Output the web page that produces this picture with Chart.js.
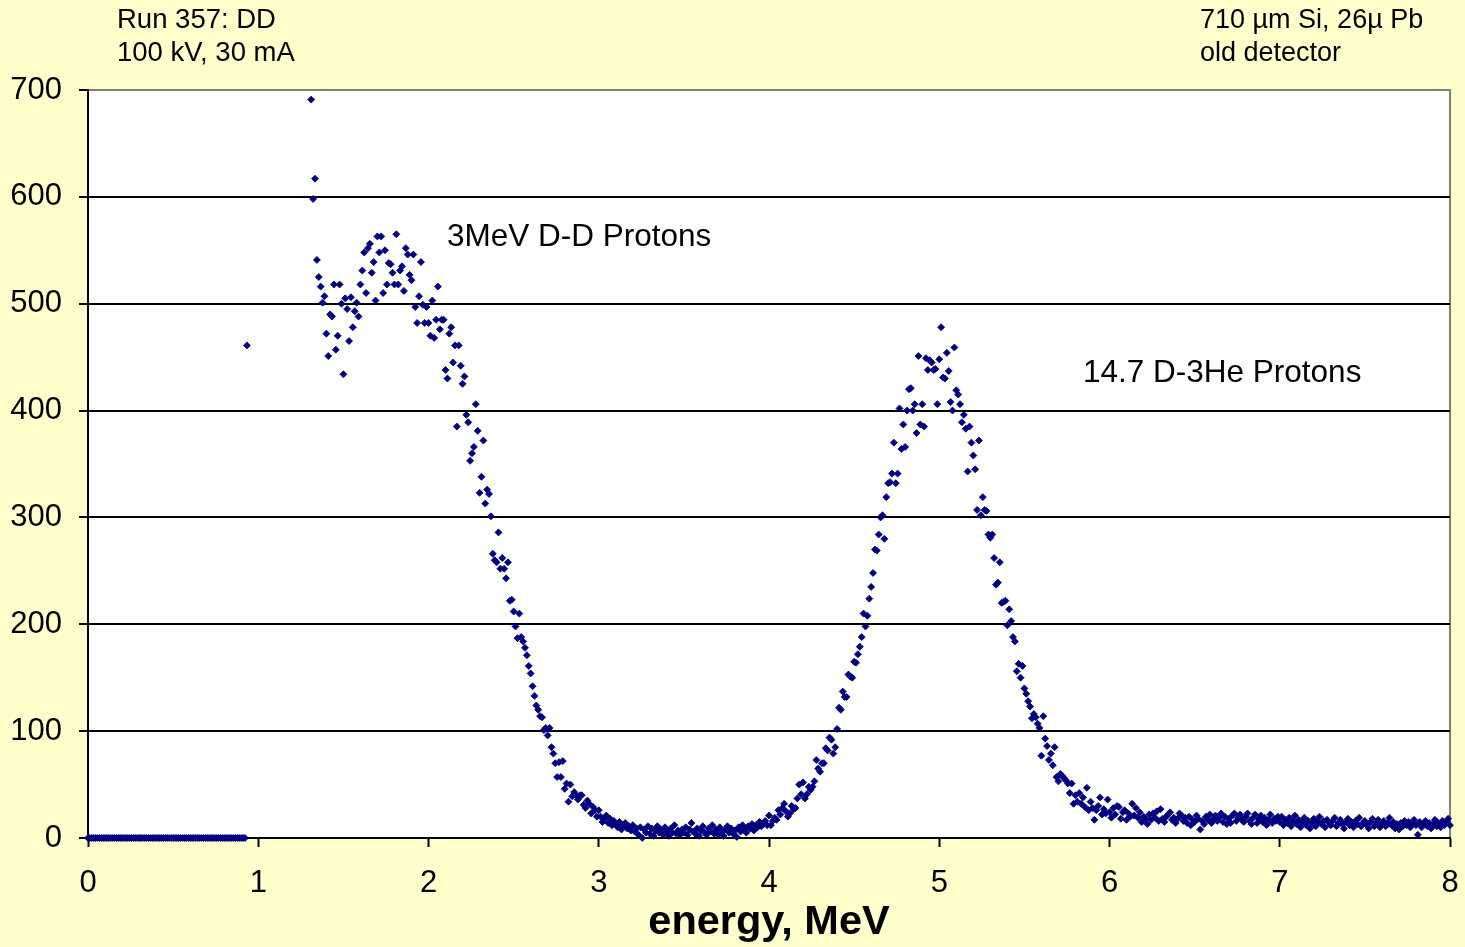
<!DOCTYPE html>
<html>
<head>
<meta charset="utf-8">
<title>Run 357: DD</title>
<script src="https://cdn.jsdelivr.net/npm/chart.js@4.4.0/dist/chart.umd.min.js"></script>
<style>
  html, body { margin: 0; padding: 0; background: #FFFFCC; }
  #wrap { width: 1465px; height: 947px; }
</style>
</head>
<body>
<div id="wrap"><canvas id="spectrum" width="1465" height="947"></canvas></div>
<script>
// energy calibration: 90 channels per MeV
const mevPerChannel = 1 / 90;

// channels 0..84 (below threshold, then one point at 0.93 MeV)
const lowCounts = [
  0, 0, 0, 0, 0, 0, 0, 0, 0, 0, 0, 0, 0, 0, 0, 0, 0, 0, 0, 0,
  0, 0, 0, 0, 0, 0, 0, 0, 0, 0, 0, 0, 0, 0, 0, 0, 0, 0, 0, 0,
  0, 0, 0, 0, 0, 0, 0, 0, 0, 0, 0, 0, 0, 0, 0, 0, 0, 0, 0, 0,
  0, 0, 0, 0, 0, 0, 0, 0, 0, 0, 0, 0, 0, 0, 0, 0, 0, 0, 0, 0,
  0, 0, 0, 0, 461
];
// channels 85..117 are off scale (> 700), not drawn

// channels 118..179 (1.31 - 1.99 MeV)
const counts1 = [
  691, 598, 617, 541, 525, 516, 501, 507,
  472, 451, 490, 488, 518, 457, 470, 518, 500,
  434, 505, 495, 465, 506, 478, 493, 501, 488,
  518, 531, 548, 510, 552, 556, 529, 539, 503,
  563, 548, 563, 510, 550, 518, 538, 537, 529,
  518, 565, 518, 531, 535, 512, 552, 546, 527,
  522, 546, 497, 482, 507, 539, 499, 482, 497
];
// channels 180..269 (2.00 - 2.99 MeV)
const counts2 = [
  482, 470, 503, 468, 485, 516, 476, 485, 485,
  438, 430, 472, 478, 445, 461, 385, 461, 442,
  425, 432, 396, 389, 353, 360, 366, 406, 381,
  323, 338, 372, 313, 326, 322, 301, 266, 260,
  258, 286, 252, 262, 252, 243, 258, 222, 223,
  212, 198, 187, 210, 188, 184, 178, 171, 161,
  154, 142, 133, 124, 120, 114, 113, 101, 103,
  96, 103, 85, 79, 70, 57, 71, 57, 72,
  46, 51, 34, 50, 39, 43, 40, 36, 40,
  40, 31, 28, 35, 32, 23, 29, 26, 20
];
// channels 270..359 (3.00 - 3.99 MeV)
const counts3 = [
  26, 20, 15, 18, 21, 14, 18, 12, 16,
  13, 10, 15, 8, 12, 14, 9, 11, 7,
  12, 6, 9, 3, 10, 0, 8, 5, 11,
  4, 9, 2, 7, 11, 5, 8, 3, 10,
  6, 2, 9, 5, 12, 4, 7, 3, 8,
  5, 10, 3, 8, 14, 6, 4, 9, 2,
  7, 11, 5, 3, 9, 6, 12, 4, 8,
  3, 10, 6, 2, 8, 11, 5, 9, 4,
  7, 1, 10, 6, 12, 8, 5, 11, 9,
  13, 7, 12, 10, 15, 11, 14, 16, 12
];
// channels 360..449 (4.00 - 4.99 MeV)
const counts4 = [
  21, 12, 16, 19, 17, 26, 22, 28, 32,
  25, 20, 23, 30, 27, 28, 37, 50, 41,
  52, 37, 41, 48, 45, 48, 53, 73, 65,
  62, 70, 70, 84, 82, 94, 92, 79, 85,
  102, 122, 120, 137, 132, 132, 153, 151, 150,
  165, 164, 172, 179, 188, 210, 198, 208, 224,
  235, 248, 270, 269, 284, 300, 302, 280, 319,
  332, 333, 341, 370, 332, 341, 402, 364, 387,
  366, 400, 420, 421, 400, 406, 379, 451, 387,
  406, 385, 449, 438, 447, 445, 438, 439, 406
];
// channels 450..539 (5.00 - 5.99 MeV)
const counts5 = [
  448, 478, 431, 430, 454, 437, 408, 400, 459,
  419, 415, 406, 389, 396, 383, 343, 385, 370,
  358, 345, 307, 372, 302, 319, 307, 306, 284,
  281, 284, 262, 237, 239, 258, 220, 221, 222,
  199, 214, 203, 188, 184, 156, 163, 150, 161,
  140, 135, 128, 123, 112, 116, 113, 107, 103,
  77, 114, 93, 86, 73, 79, 68, 85, 57,
  53, 60, 58, 56, 54, 51, 42, 51, 32,
  40, 34, 42, 32, 38, 29, 47, 26, 34,
  28, 17, 26, 30, 38, 22, 27, 23, 36
];
// channels 540..629 (6.00 - 6.99 MeV)
const counts6 = [
  24, 19, 28, 22, 30, 29, 18, 24, 26,
  17, 23, 20, 32, 21, 28, 19, 24, 15,
  20, 18, 13, 22, 17, 23, 19, 25, 16,
  27, 18, 15, 20, 22, 24, 17, 19, 14,
  18, 23, 21, 16, 19, 14, 20, 12, 17,
  15, 21, 18, 8, 16, 13, 20, 17, 22,
  14, 18, 21, 16, 19, 23, 15, 20, 13,
  18, 14, 21, 23, 16, 19, 22, 17, 15,
  20, 23, 16, 13, 19, 22, 14, 18, 21,
  15, 19, 12, 17, 22, 14, 18, 16, 20
];
// channels 630..720 (7.00 - 8.00 MeV)
const counts7 = [
  15, 20, 12, 17, 14, 19, 11, 16, 21,
  13, 17, 10, 15, 19, 12, 16, 9, 14,
  18, 11, 15, 20, 13, 16, 10, 17, 14,
  12, 16, 19, 11, 14, 17, 13, 9, 15,
  18, 12, 15, 10, 16, 13, 19, 11, 14,
  16, 12, 9, 15, 18, 11, 14, 17, 10,
  13, 16, 11, 14, 19, 12, 15, 9, 13,
  8, 14, 11, 16, 12, 15, 10, 13, 17,
  12, 3, 15, 10, 13, 16, 11, 14, 9,
  13, 17, 11, 14, 10, 16, 12, 15, 18,
  12
];

const segments = [
  { first: 0, counts: lowCounts },
  { first: 118, counts: counts1 },
  { first: 180, counts: counts2 },
  { first: 270, counts: counts3 },
  { first: 360, counts: counts4 },
  { first: 450, counts: counts5 },
  { first: 540, counts: counts6 },
  { first: 630, counts: counts7 }
];

const points = [];
segments.forEach(seg => {
  seg.counts.forEach((c, i) => {
    points.push({ x: (seg.first + i) * mevPerChannel, y: c });
  });
});

const FONT = "'Liberation Sans', Arial, sans-serif";

// white plot area with grey frame
const plotBackground = {
  id: "plotBackground",
  beforeDraw(chart) {
    const { ctx, chartArea: a } = chart;
    ctx.save();
    ctx.fillStyle = "#FFFFFF";
    ctx.fillRect(a.left, a.top, a.right - a.left, a.bottom - a.top);
    ctx.strokeStyle = "#808080";
    ctx.lineWidth = 2;
    ctx.beginPath();
    ctx.moveTo(a.left, a.top);
    ctx.lineTo(a.right, a.top);
    ctx.lineTo(a.right, a.bottom);
    ctx.stroke();
    ctx.restore();
  }
};

// text labels on the chart
const notes = {
  id: "notes",
  afterDraw(chart) {
    const ctx = chart.ctx;
    ctx.save();
    ctx.fillStyle = "#000";
    ctx.textAlign = "left";
    ctx.textBaseline = "alphabetic";
    ctx.font = "27.5px " + FONT;
    ctx.fillText("Run 357: DD", 117, 28);
    ctx.fillText("100 kV, 30 mA", 117, 61);
    ctx.font = "27px " + FONT;
    ctx.fillText("710 µm Si, 26µ Pb", 1200, 28);
    ctx.fillText("old detector", 1200, 61);
    ctx.font = "31.5px " + FONT;
    ctx.fillText("3MeV D-D Protons", 447, 246);
    ctx.fillText("14.7 D-3He Protons", 1083, 382);
    ctx.restore();
  }
};

const ctx = document.getElementById("spectrum").getContext("2d");
new Chart(ctx, {
  type: "scatter",
  data: {
    datasets: [{
      label: "counts",
      data: points,
      pointStyle: "rectRot",
      pointRadius: 3.5,
      pointHoverRadius: 3.5,
      pointBackgroundColor: "#000080",
      pointBorderColor: "#000080",
      pointBorderWidth: 0.8,
      clip: false
    }]
  },
  options: {
    responsive: false,
    animation: false,
    events: [],
    layout: { padding: { top: 90, right: 15, left: 0, bottom: 0 } },
    plugins: {
      legend: { display: false },
      tooltip: { enabled: false }
    },
    scales: {
      x: {
        type: "linear",
        min: 0,
        max: 8,
        ticks: { stepSize: 1, color: "#000", padding: 18, maxRotation: 0, font: { family: FONT, size: 31 } },
        grid: { drawOnChartArea: false, drawTicks: true, tickLength: 9, tickColor: "#000", tickWidth: 2 },
        border: { color: "#000", width: 2 },
        title: {
          display: true,
          text: "energy, MeV",
          color: "#000",
          font: { family: FONT, size: 41.5, weight: "bold" },
          padding: { top: 0, bottom: 0 }
        },
        afterFit(scale) {
          scale.height = 109;
          scale.paddingLeft = 0;
          scale.paddingRight = 9;
        }
      },
      y: {
        min: 0,
        max: 700,
        ticks: { stepSize: 100, color: "#000", padding: 17, font: { family: FONT, size: 31 } },
        grid: {
          color: c => (c.tick && c.tick.value === 700 ? "#808080" : "#000"),
          lineWidth: 2,
          tickLength: 9,
          tickColor: "#000",
          tickWidth: 2
        },
        border: { color: "#000", width: 2 },
        afterFit(scale) { scale.width = 88; }
      }
    }
  },
  plugins: [plotBackground, notes]
});
</script>
</body>
</html>
